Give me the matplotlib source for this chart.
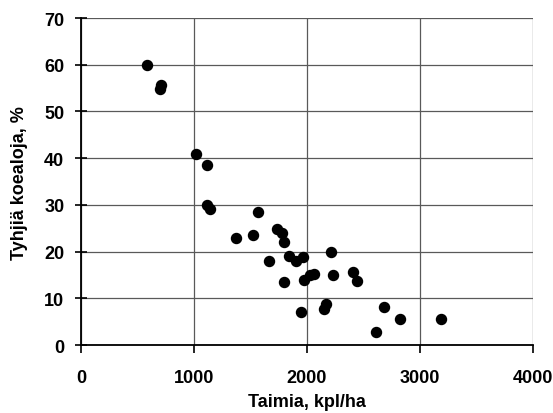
import matplotlib.pyplot as plt

plt.rcParams['font.family'] = ['Liberation Sans', 'DejaVu Sans']

# taimia (kpl/ha) vs tyhjiä koealoja (%)
taimia = [580, 705, 700, 1015, 1114, 1114, 1139, 1569, 1374, 1525,
          1735, 1779, 1794, 1666, 1845, 1901, 1967, 1794, 1976, 2024,
          2061, 2212, 2231, 2406, 2447, 1951, 2149, 2165, 2616, 2685,
          2827, 3191]
tyhjia = [60.0, 55.6, 54.8, 40.9, 38.5, 30.0, 29.1, 28.4, 23.0, 23.5,
          24.9, 24.0, 22.0, 18.0, 19.1, 18.1, 18.9, 13.5, 13.9, 14.9,
          15.3, 19.9, 14.9, 15.6, 13.7, 7.1, 7.7, 8.7, 2.8, 8.2,
          5.5, 5.5]

fig = plt.figure(figsize=(5.53, 4.14), dpi=100)
ax = fig.add_axes([0.1465, 0.164, 0.817, 0.790])

ax.scatter(taimia, tyhjia, s=52, color='black', zorder=3)

ax.set_xlim(0, 4000)
ax.set_ylim(0, 70)
ax.set_xticks([0, 1000, 2000, 3000, 4000])
ax.set_yticks(range(0, 71, 10))
ax.grid(True, color='0.35', linewidth=0.9)
ax.set_axisbelow(True)

for s in ['top', 'right']:
    ax.spines[s].set_visible(False)
ax.spines['left'].set_linewidth(1.3)
ax.spines['bottom'].set_linewidth(1.3)
ax.tick_params(axis='x', direction='out', length=6, width=1.2, pad=11, labelsize=13)
ax.tick_params(axis='y', direction='inout', length=8, width=1.2, pad=8, labelsize=13)
for lab in ax.get_xticklabels() + ax.get_yticklabels():
    lab.set_fontweight('bold')

ax.set_xlabel('Taimia, kpl/ha', fontsize=13, fontweight='bold', labelpad=5)
ax.set_ylabel('Tyhjiä koealoja, %', fontsize=13, fontweight='bold', labelpad=12)

fig.savefig('out.png', dpi=100)
